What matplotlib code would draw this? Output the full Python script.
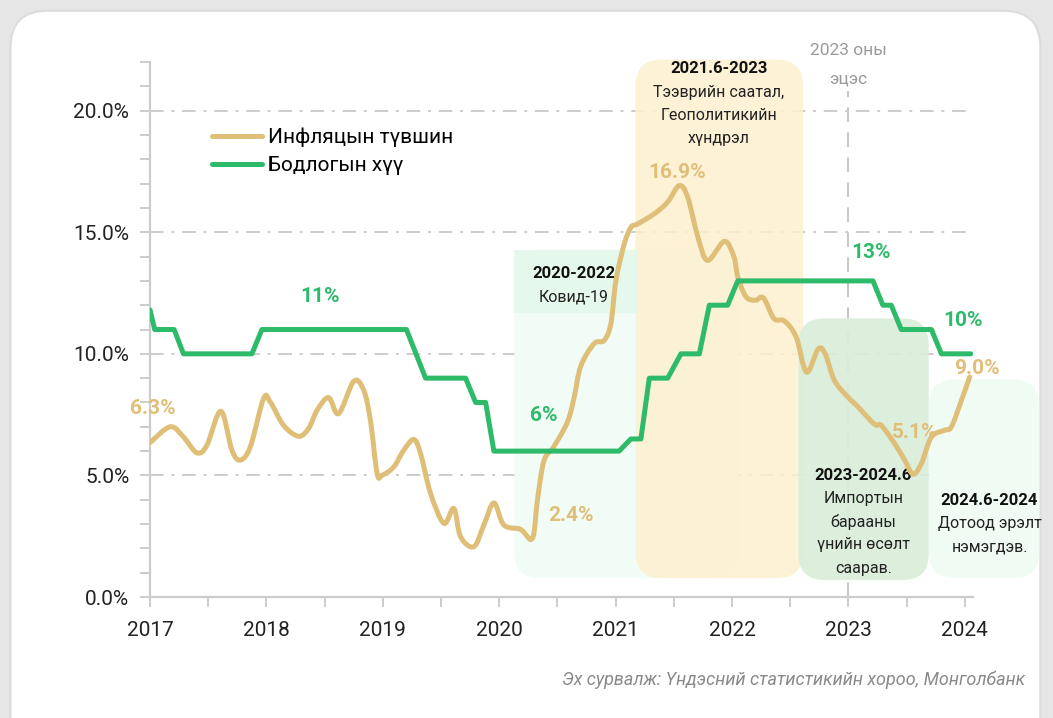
import matplotlib
matplotlib.use("Agg")
import matplotlib.pyplot as plt
from matplotlib.patches import FancyBboxPatch, Rectangle, PathPatch
from matplotlib.path import Path
from matplotlib.lines import Line2D

plt.rcParams['font.family'] = ['Roboto', 'DejaVu Sans']

# Инфляцын түвшин (%), уншсан утгууд
infl_t = [2017.000, 2017.172, 2017.284, 2017.402, 2017.488, 2017.608, 2017.703, 2017.775,
          2017.861, 2017.975, 2018.033, 2018.147, 2018.276, 2018.362, 2018.435, 2018.534,
          2018.620, 2018.750, 2018.836, 2018.893, 2018.951, 2018.994, 2019.094, 2019.180,
          2019.266, 2019.324, 2019.410, 2019.524, 2019.610, 2019.668, 2019.782, 2019.868,
          2019.954, 2020.040, 2020.184, 2020.285, 2020.328, 2020.384, 2020.471, 2020.586,
          2020.643, 2020.701, 2020.815, 2020.901, 2020.959, 2021.002, 2021.073, 2021.131,
          2021.188, 2021.332, 2021.447, 2021.547, 2021.619, 2021.707, 2021.790, 2021.934,
          2022.017, 2022.050, 2022.120, 2022.200, 2022.270, 2022.360, 2022.450, 2022.550,
          2022.640, 2022.740, 2022.800, 2022.880, 2022.996, 2023.082, 2023.225, 2023.282,
          2023.397, 2023.483, 2023.555, 2023.627, 2023.713, 2023.827, 2023.885, 2023.971,
          2024.042]
infl_v = [6.35, 7.0, 6.6, 5.93, 6.24, 7.64, 6.04, 5.63,
          6.17, 8.16, 8.02, 7.06, 6.61, 6.93, 7.68, 8.2,
          7.54, 8.87, 8.5, 7.27, 5.08, 5.01, 5.35, 6.04,
          6.48, 5.9, 4.26, 3.03, 3.64, 2.48, 2.07, 2.96,
          3.87, 2.96, 2.78, 2.41, 3.98, 5.6, 6.2, 7.2,
          8.2, 9.5, 10.42, 10.55, 11.24, 13.0, 14.5, 15.2,
          15.34, 15.76, 16.24, 16.92, 16.44, 14.8, 13.84, 14.63,
          13.98, 13.15, 12.35, 12.2, 12.3, 11.45, 11.35, 10.7,
          9.25, 10.2, 10.0, 8.9, 8.22, 7.82, 7.1, 7.06,
          6.31, 5.63, 5.05, 5.49, 6.58, 6.86, 7.0, 8.09,
          9.05]

# Бодлогын хүү (%)
rate_t = [2017.0, 2017.04, 2017.207, 2017.287, 2017.875, 2017.961, 2019.203, 2019.367,
          2019.711, 2019.797, 2019.883, 2019.954, 2021.03, 2021.131, 2021.217, 2021.289,
          2021.447, 2021.561, 2021.719, 2021.805, 2021.962, 2022.049, 2023.211, 2023.296,
          2023.368, 2023.454, 2023.713, 2023.799, 2024.051]
rate_v = [11.8, 11, 11, 10, 10, 11, 11, 9,
          9, 8, 8, 6, 6, 6.5, 6.5, 9,
          9, 10, 10, 12, 12, 13, 13, 12,
          12, 11, 11, 10, 10]

years = [2017, 2018, 2019, 2020, 2021, 2022, 2023, 2024]
yticks = [0, 5, 10, 15, 20]

# тайлбар хайрцагууд: (эхлэл, төгсгөл, доод, дээд)
periods = [
    (2020.13, 2022.06, 0.78, 14.29),
    (2021.17, 2022.61, 0.78, 22.1),
    (2022.57, 2023.69, 0.70, 11.46),
    (2023.69, 2024.64, 0.78, 8.95),
]
period_colors = ["#f0fcf5", "#fdf0cf", "#d9edd9", "#f0fcf3"]
period_alpha = [1.0, 0.85, 0.9, 1.0]
period_titles = ["2020-2022", "2021.6-2023", "2023-2024.6", "2024.6-2024"]
period_texts = [["Ковид-19"],
                ["Тээврийн саатал,", "Геополитикийн", "хүндрэл"],
                ["Импортын", "барааны", "үнийн өсөлт", "саарав."],
                ["Дотоод эрэлт", "нэмэгдэв."]]
period_text_x = [2020.64, 2021.888, 2023.127, 2024.212]
period_text_y = [13.31, 21.72, 5.01, 3.98]

TAN = "#dfbf78"
GREEN = "#2dba69"


def smooth_path(xs, ys):
    # уншсан цэгүүдийг дайрсан гөлгөр (Catmull-Rom -> Bezier) зураас
    pts = list(zip(xs, ys))
    verts = [pts[0]]
    codes = [Path.MOVETO]
    n = len(pts)
    for i in range(n - 1):
        p0 = pts[max(i - 1, 0)]
        p1 = pts[i]
        p2 = pts[i + 1]
        p3 = pts[min(i + 2, n - 1)]
        c1 = (p1[0] + (p2[0] - p0[0]) / 6, p1[1] + (p2[1] - p0[1]) / 6)
        c2 = (p2[0] - (p3[0] - p1[0]) / 6, p2[1] - (p3[1] - p1[1]) / 6)
        verts += [c1, c2, p2]
        codes += [Path.CURVE4] * 3
    return Path(verts, codes)


fig = plt.figure(figsize=(10.53, 7.18), dpi=100)
fig.patch.set_facecolor("#e6e6e6")
card = FancyBboxPatch((0.01, -0.08), 0.978, 1.065, boxstyle="round,pad=0,rounding_size=0.035",
                      transform=fig.transFigure, facecolor="white", edgecolor="#dcdcdc",
                      linewidth=1.5, zorder=-5, mutation_aspect=1053 / 718)
fig.patches.append(card)

ax = fig.add_axes([0.1425, 0.1685, 0.7815, 0.7451])
ax.set_facecolor("none")
ax.set_xlim(2017, 2024.07)
ax.set_ylim(0, 22)

px_x = 1 / 116.2
aspect = 116.2 / 24.35
for (x0, x1, y0, y1), c, a in zip(periods, period_colors, period_alpha):
    box = FancyBboxPatch((x0, y0), x1 - x0, y1 - y0,
                         boxstyle="round,pad=0,rounding_size=%f" % (26 * px_x),
                         mutation_aspect=aspect, facecolor=c, edgecolor="none",
                         alpha=a, zorder=1, clip_on=False)
    ax.add_patch(box)
# Ковид гарчгийн дэвсгэр
ax.add_patch(Rectangle((2020.13, 11.66), 1.06, 2.63, facecolor="#e3f8eb", edgecolor="none",
                       zorder=1.1, alpha=0.9))

for x, y, title, lines in zip(period_text_x, period_text_y, period_titles, period_texts):
    ax.text(x, y, title, ha="center", va="center", fontsize=12, fontweight="bold",
            color="#111111", zorder=3, clip_on=False)
    for i, ln in enumerate(lines):
        ax.text(x, y - (i + 1) * 0.955, ln, ha="center", va="center", fontsize=11.5,
                color="#222222", zorder=3, clip_on=False)

# grid
for yv in yticks[1:]:
    ax.axhline(yv, color="#cccccc", lw=1.4, linestyle=(0, (7, 4, 1.5, 4)), zorder=0.5)
ax.axvline(2023, ymax=20.8 / 22, color="#c8c8c8", lw=1.5, linestyle=(0, (7, 5)), zorder=0.6)
ax.text(2023, 22.46, "2023 оны", ha="center", va="center", fontsize=12.5, color="#9a9a9a",
        clip_on=False)
ax.text(2023, 21.31, "эцэс", ha="center", va="center", fontsize=12.5, color="#9a9a9a",
        clip_on=False)

ax.add_patch(PathPatch(smooth_path(infl_t, infl_v), facecolor="none", edgecolor=TAN, lw=3.6,
                       joinstyle="round", capstyle="round", zorder=4))
ax.plot(rate_t, rate_v, color=GREEN, lw=3.6, solid_joinstyle="round", solid_capstyle="round",
        zorder=4)

labels = [
    (2017.026, 7.76, "6.3%", TAN), (2018.463, 12.36, "11%", GREEN),
    (2020.382, 7.47, "6%", GREEN), (2020.614, 3.37, "2.4%", TAN),
    (2021.527, 17.45, "16.9%", TAN), (2023.196, 14.17, "13%", GREEN),
    (2023.988, 11.38, "10%", GREEN), (2024.10, 9.40, "9.0%", TAN),
    (2023.566, 6.78, "5.1%", TAN),
]
for x, y, s, c in labels:
    ax.text(x, y, s, ha="center", va="center", fontsize=15, fontweight="bold", color=c,
            zorder=3.5, clip_on=False)

handles = [Line2D([], [], color=TAN, lw=3.6, solid_capstyle="round"),
           Line2D([], [], color=GREEN, lw=3.6, solid_capstyle="round")]
ax.legend(handles, ["Инфляцын түвшин", "Бодлогын хүү"], loc="upper left",
          bbox_to_anchor=(0.052, 0.912), frameon=False, fontsize=15,
          handlelength=2.4, handletextpad=0.3, labelspacing=0.42)

for s in ["top", "right"]:
    ax.spines[s].set_visible(False)
for s in ["left", "bottom"]:
    ax.spines[s].set_color("#cccccc")
    ax.spines[s].set_linewidth(1.6)

ax.set_xticks(years)
ax.set_xticks([y + 0.5 for y in years[:-1]], minor=True)
ax.set_xticklabels([str(y) for y in years], fontsize=15, color="#222222")
ax.set_yticks(yticks)
ax.set_yticks(range(0, 23), minor=True)
ax.set_yticklabels(["%.1f%%" % v for v in yticks], fontsize=15, color="#222222")
ax.tick_params(axis="both", which="both", color="#cccccc", width=1.4, length=7)
ax.tick_params(axis="x", pad=10)
ax.tick_params(axis="y", pad=8)

fig.text(0.974, 0.053, "Эх сурвалж: Үндэсний статистикийн хороо, Монголбанк", ha="right",
         va="center", fontsize=13, style="italic", color="#8a8a8a")

fig.savefig("out.png", dpi=100, facecolor=fig.get_facecolor())
